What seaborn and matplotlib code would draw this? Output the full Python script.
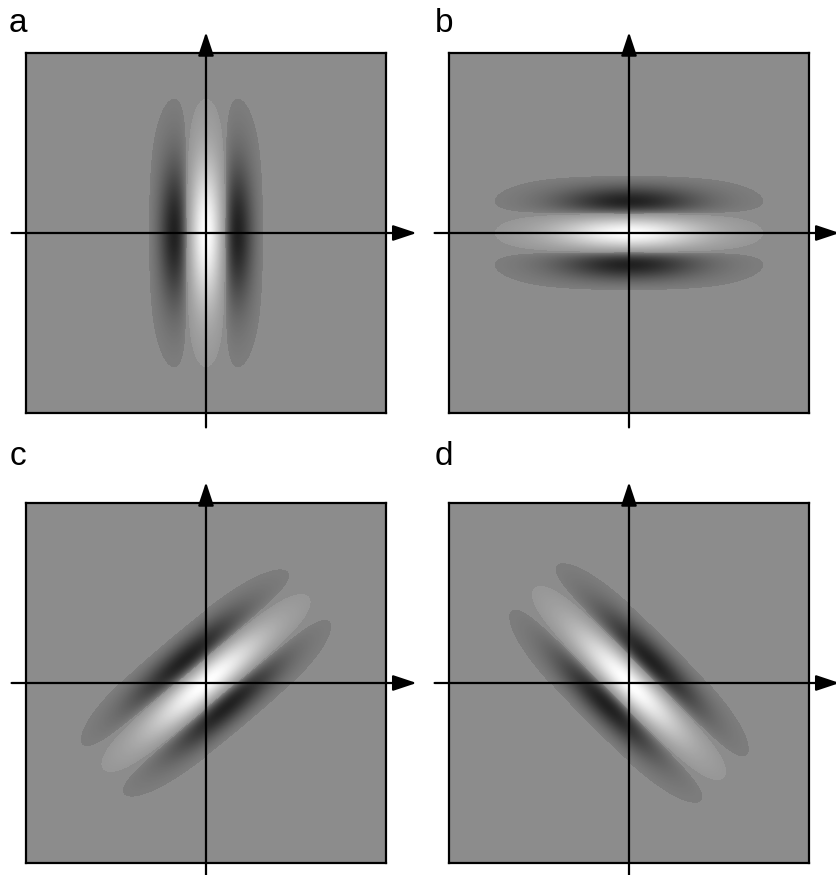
import numpy as np
import pandas as pd
import matplotlib
matplotlib.use("Agg")
import matplotlib.pyplot as plt
from matplotlib.colors import LinearSegmentedColormap
import seaborn as sns

# Panel settings
panel_labels = ["a", "b", "c", "d"]
lobe_angles = [90, 0, 40, -45]          # direction of the long lobe axis, degrees
wavelength = 0.44                        # in units of half the square
sigma_across = 0.14
sigma_along = 0.283
cutoff = 0.03                            # relative level below which nothing is drawn

bg_gray = "#8c8c8c"

# grey map: dark lobes -> just under background, bright lobe -> just above
cmap = LinearSegmentedColormap.from_list(
    "gabor",
    [(0.0, (0.13, 0.13, 0.13)),
     (0.499, (0.50, 0.50, 0.50)),
     (0.501, (0.58, 0.58, 0.58)),
     (1.0, (1.0, 1.0, 1.0))])

n = 361
xs = np.linspace(-1, 1, n)
ys = np.linspace(1, -1, n)
X, Y = np.meshgrid(xs, ys)


def gabor(angle_deg):
    phi = np.deg2rad(angle_deg)
    v = X * np.cos(phi) + Y * np.sin(phi)
    u = -X * np.sin(phi) + Y * np.cos(phi)
    f = np.cos(2 * np.pi * u / wavelength) * np.exp(
        -u**2 / (2 * sigma_across**2) - v**2 / (2 * sigma_along**2))
    # scale each sign on its own
    g = np.where(f > 0, f / f.max(), f / -f.min())
    return pd.DataFrame(g)


fig = plt.figure(figsize=(8.36, 8.75), dpi=100)
W, H = 836.0, 875.0

# square corners in pixels (left, top) and label positions
squares = [(26, 53), (449, 53), (26, 503), (449, 503)]
label_pos = [(9, 32), (435, 32), (10, 465), (435, 465)]
side = 360.0

for lab, ang, (lx, ty), (tx, tb) in zip(panel_labels, lobe_angles, squares, label_pos):
    ax = fig.add_axes([lx / W, 1 - (ty + side) / H, side / W, side / H])
    ax.set_facecolor(bg_gray)
    data = gabor(ang)
    sns.heatmap(data, mask=data.abs() < cutoff, cmap=cmap, vmin=-1, vmax=1,
                cbar=False, xticklabels=False, yticklabels=False, ax=ax,
                rasterized=True)
    ax.set_xticks([])
    ax.set_yticks([])
    for s in ax.spines.values():
        s.set_visible(True)
        s.set_color("black")
        s.set_linewidth(1.6)

    arrow = dict(arrowstyle="-|>,head_length=0.6,head_width=0.2", color="black",
                 lw=1.6, mutation_scale=24, shrinkA=0, shrinkB=0)
    # horizontal axis
    ax.annotate("", xy=(1.085, 0.5), xytext=(-0.04, 0.5), xycoords="axes fraction",
                textcoords="axes fraction", arrowprops=arrow, annotation_clip=False)
    # vertical axis
    ax.annotate("", xy=(0.5, 1.058), xytext=(0.5, -0.04), xycoords="axes fraction",
                textcoords="axes fraction", arrowprops=arrow, annotation_clip=False)

    fig.text(tx / W, 1 - tb / H, lab, fontsize=24, family="Liberation Sans",
             va="baseline", ha="left")

fig.savefig("out.png", dpi=100)
